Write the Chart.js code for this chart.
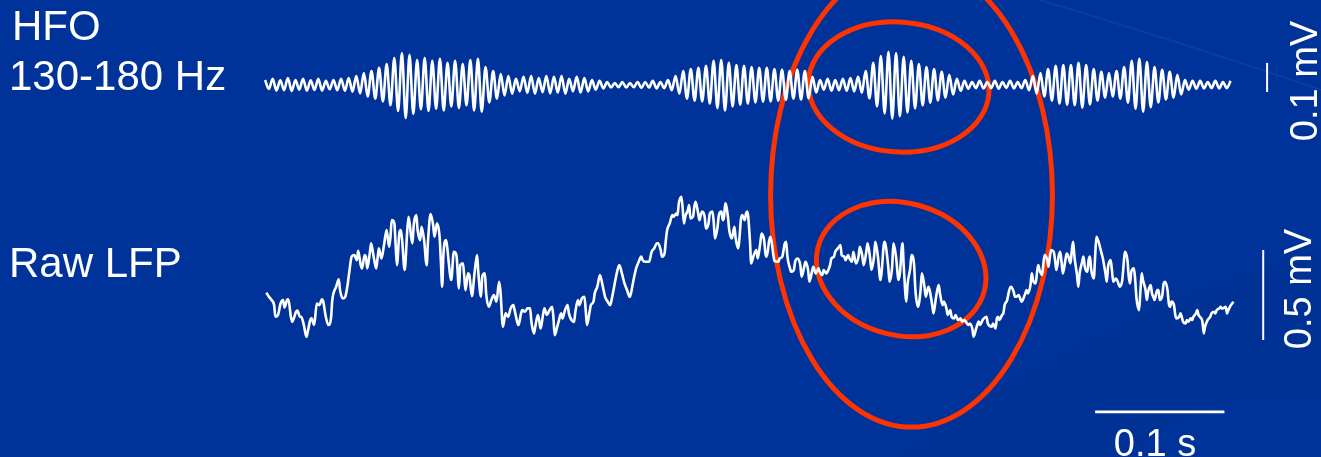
<!DOCTYPE html>
<html>
<head>
<meta charset="utf-8">
<title>HFO and raw LFP</title>
<script src="https://cdn.jsdelivr.net/npm/chart.js@4/dist/chart.umd.min.js"></script>
<style>
  html, body { margin: 0; padding: 0; background: #003399; overflow: hidden; }
  #wrap { position: relative; width: 1321px; height: 457px; }
  #plot { position: absolute; left: 0; top: 0; }
  .lbl { position: absolute; color: #ffffff; font-family: "Liberation Sans", Arial, sans-serif;
         line-height: 1; white-space: nowrap; }
  .rot { transform: translate(-50%, -50%) rotate(-90deg); }
  .ctr { transform: translateX(-50%); }
</style>
</head>
<body>
<div id="wrap">
  <canvas id="plot" width="1321" height="457"></canvas>
  <div class="lbl" style="left:12px; top:5px; font-size:42px;">HFO</div>
  <div class="lbl" style="left:9px; top:55px; font-size:42px;">130-180 Hz</div>
  <div class="lbl" style="left:9px; top:242px; font-size:42px;">Raw LFP</div>
  <div class="lbl rot" style="left:1304px; top:81px; font-size:38px;">0.1 mV</div>
  <div class="lbl rot" style="left:1298px; top:289px; font-size:38px;">0.5 mV</div>
  <div class="lbl ctr" style="left:1155px; top:424px; font-size:38px;">0.1 s</div>
</div>
<script>
// Band-passed trace (130-180 Hz), one value per half cycle: peak, trough, peak, ... (µV)
const HFO_STEP_MS = 2.94;
const hfoUv = [
  17,-14, 21,-19, 16,-18, 24,-21, 17,-16, 21,-20, 16,-17, 21,-19, 14,-15, 17,-18,
  21,-20, 24,-23, 31,-29, 41,-40, 48,-47, 59,-57, 72,-70, 93,-90, 110,-114, 104,-100,
  86,-84, 93,-90, 83,-82, 90,-88, 76,-74, 83,-80, 72,-70, 86,-88, 90,-92, 62,-60,
  48,-47, 38,-36, 31,-30, 21,-22, 28,-27, 31,-30, 24,-25, 31,-29, 28,-26, 31,-30,
  21,-22, 28,-26, 24,-22, 17,-16, 14,-12, 10,-9, 7,-8, 10,-9, 7,-8, 10,-10,
  10,-9, 14,-12, 10,-11, 17,-18, 31,-30, 48,-47, 55,-54, 59,-57, 66,-64, 83,-80,
  86,-88, 76,-74, 69,-68, 66,-64, 62,-60, 59,-58, 59,-57, 55,-54, 52,-51, 48,-47,
  52,-50, 48,-46, 28,-26, 17,-16, 21,-20, 17,-18, 21,-20, 24,-22, 28,-27, 48,-46,
  76,-74, 100,-98, 114,-116, 110,-108, 97,-95, 83,-81, 72,-70, 62,-61, 55,-53, 45,-44,
  35,-33, 21,-20, 14,-13, 10,-11, 14,-12, 10,-11, 14,-13, 10,-10, 14,-12, 10,-11,
  17,-18, 31,-30, 41,-40, 55,-54, 66,-64, 69,-68, 69,-70, 76,-78, 69,-67, 55,-54,
  45,-44, 41,-40, 48,-47, 62,-61, 83,-82, 90,-92, 79,-77, 62,-60, 52,-50, 45,-44,
  35,-33, 17,-16, 14,-13, 14,-12, 10,-11, 14,-12, 10,-11, 14
];

// Raw LFP: [time ms, µV]
const lfpPoints = [
  [1,41],[3,18],[5,0],[7,-28],[8,-93],[10,-83],[12,-19],[14,0],[15,-41],[17,0],[18,4],[20,-93],
  [21,-121],[24,-65],[25,-59],[27,-93],[28,-93],[30,-139],[32,-204],[33,-176],[35,-111],[36,-102],
  [38,-139],[40,-19],[42,-28],[44,4],[45,-9],[47,-93],[49,-139],[51,-102],[52,0],[55,74],[57,115],
  [58,55],[60,9],[62,18],[64,92],[65,148],[67,241],[69,250],[71,222],[72,274],[74,194],[75,176],
  [77,250],[78,241],[79,176],[81,259],[82,315],[84,241],[86,176],[87,231],[88,287],[90,231],
  [92,305],[94,389],[96,296],[97,352],[98,444],[100,426],[101,305],[102,194],[104,380],[105,389],
  [106,333],[108,167],[110,389],[111,463],[113,352],[114,315],[115,417],[117,472],[118,389],
  [120,333],[121,407],[123,333],[125,194],[126,324],[128,478],[130,417],[131,352],[133,426],
  [135,352],[136,213],[137,74],[138,259],[140,333],[141,287],[142,213],[144,111],[146,268],
  [148,250],[150,65],[151,194],[153,204],[154,139],[155,55],[157,148],[158,139],[160,22],
  [162,148],[164,250],[165,148],[167,18],[168,130],[170,148],[171,37],[173,-37],[175,0],[176,18],
  [177,28],[179,-9],[181,102],[182,55],[184,-148],
  [186,-74],[188,-93],[190,-46],[192,-28],[193,-56],[195,-121],[196,-139],[198,-74],[199,-56],
  [201,-65],[203,-46],[205,-46],[206,-121],[208,-185],[209,-148],[211,-83],[212,-111],[213,-158],
  [214,-130],[216,-46],[218,-83],[220,-56],[222,-37],[223,-93],[224,-195],[226,-148],[227,-121],
  [229,-74],[230,-102],[232,-56],[234,-28],[235,-74],[237,-111],[239,-121],[240,-65],[242,0],
  [243,-28],[245,9],[247,18],[248,-56],[249,-139],[251,-65],[252,-28],[254,-9],[255,37],[257,74],
  [259,139],[261,83],[263,18],[265,-9],[267,-28],[268,0],[270,74],[272,148],[274,194],[276,148],
  [278,92],[280,55],[282,18],[283,37],[285,111],[287,176],[289,213],[291,241],[292,222],[294,213],
  [297,213],[299,268],[301,287],[303,315],[304,315],[306,278],[307,241],[309,259],[310,333],
  [311,389],[313,426],[315,472],[316,463],[318,481],[319,472],[320,537],[322,574],[323,509],
  [324,426],[325,463],[327,500],[328,528],[329,454],[331,463],[332,518],[333,546],[335,481],
  [336,444],[337,472],[338,491],[340,463],[341,398],[343,426],[344,481],[346,491],[347,435],
  [348,342],[350,407],[351,472],[353,491],[354,444],[355,463],[356,537],[358,463],[359,389],
  [361,342],[363,407],[364,342],[366,287],[367,352],[368,444],[369,472],[371,444],[372,481],
  [373,491],
  [375,333],[376,204],[378,250],[380,278],[381,231],[383,315],[384,370],[386,333],[387,259],
  [388,241],[390,333],[391,352],[393,259],[394,218],[397,213],[398,231],[400,241],[402,315],
  [403,324],[404,241],[406,176],[407,157],[409,167],[410,213],[412,231],[414,194],[415,130],
  [417,185],[418,213],[420,167],[421,102],[423,157],[424,185],[426,148],[428,176],[429,157],
  [431,139],[432,167],[434,148],[435,157],[437,194],[438,231],[440,241],[441,268],[443,287],
  [445,305],[446,250],[448,241],[449,222],[451,250],[452,231],[454,213],[455,268],[457,204],
  [459,241],[460,296],[462,241],[463,194],[465,268],[466,315],[468,231],[469,167],[471,241],
  [472,324],[474,241],[476,111],[477,167],[479,324],[480,305],[482,185],[483,102],[485,185],
  [486,315],[488,241],[490,111],[491,148],[493,315],[494,185],[496,-9],[497,92],[499,176],
  [500,250],[502,194],[503,55],[505,-37],[507,55],[508,148],[510,74],[511,18],[513,74],[514,55],
  [516,-28],[517,-74],[519,18],[521,83],[522,37],[524,-28],[525,-9],[527,-46],[528,-83],
  [530,-56],[531,-93],[533,-102],[534,-83],[536,-111],[538,-102],[539,-120],[541,-111],
  [542,-120],[544,-139],[545,-130],[547,-158],[548,-204],[550,-158],[552,-120],[553,-139],
  [555,-111],[556,-102],[558,-93],[559,-130],
  [562,-148],[563,-130],[565,-158],[566,-102],[567,-93],[568,-111],[570,-83],[571,-74],[572,-28],
  [574,0],[575,37],[576,65],[577,74],[579,46],[580,18],[581,18],[583,28],[584,9],[585,-9],
  [586,0],[588,37],[589,55],[590,37],[592,83],[593,148],[594,111],[596,92],[597,148],[598,194],
  [599,167],[601,139],[602,204],[603,250],[605,222],[606,185],[607,241],[608,278],[610,268],
  [611,222],[612,167],[614,250],[615,268],[616,213],[617,148],[619,222],[620,259],[621,250],
  [623,204],[624,278],[625,324],[626,241],[628,139],[629,74],[630,148],[632,213],[633,241],
  [634,185],[636,157],[637,222],[638,241],[639,167],[641,120],[642,241],[643,352],[645,315],
  [646,287],[647,259],[648,231],[650,148],[651,102],[652,185],[654,222],[655,167],[656,102],
  [658,120],[659,111],[660,92],[661,74],[663,111],[664,194],[665,268],[667,222],[668,130],
  [669,92],[670,157],[672,176],[673,111],[674,9],[676,-56],[677,46],[678,148],[679,111],[681,55],
  [682,0],[683,46],[685,83],[686,37],[687,18],[688,0],[690,55],[691,55],[692,0],[694,28],
  [695,92],[696,102],[698,55],[699,-19],[700,-37],[701,-9],[703,-28],[704,-83],[705,-102],
  [707,-93],[708,-74],[709,-93],[710,-120],[712,-130],[713,-111],[714,-120],[716,-102],
  [717,-111],[718,-93],[720,-74],[721,-56],[722,-83],[723,-93],[725,-120],[726,-185],[727,-148],
  [729,-111],[730,-102],[731,-93],[732,-74],[734,-65],[735,-74],[736,-56],[738,-46],[739,-37],
  [740,-46],[741,-46],[743,-37],[744,-74],[745,-56],[747,-28],[748,-19],[749,-9]
];

// Calibration bars: 0.1 mV (HFO), 0.5 mV (LFP), 0.1 s
const hfoBarUv = [-24, 76];
const lfpBarUv = [-222, 278];
const timeBarMs = [642, 742];

// Highlighted events: centre (ms, µV), radii (ms, µV), tilt in degrees
const highlights = [
  { axis: 'yL', t: 500, v: 583, rt: 109, rv: 1289, tilt: 0 },
  { axis: 'yH', t: 490, v: -7, rt: 70, rv: 224, tilt: 4 },
  { axis: 'yL', t: 492, v: 172, rt: 66.5, rv: 367, tilt: 15 }
];

const WHITE = '#ffffff';
const BG = '#003399';
const RING = '#ff3300';

const backdrop = {
  id: 'backdrop',
  beforeDraw(chart) {
    const { ctx, width, height } = chart;
    ctx.save();
    ctx.fillStyle = BG;
    ctx.fillRect(0, 0, width, height);
    // faint swoosh of the slide background, lower right
    ctx.fillStyle = 'rgba(0, 20, 90, 0.08)';
    ctx.beginPath();
    ctx.moveTo(900, height);
    ctx.quadraticCurveTo(1080, 320, width, 250);
    ctx.lineTo(width, 400);
    ctx.quadraticCurveTo(1220, 380, 1120, height);
    ctx.closePath();
    ctx.fill();
    // thin light streaks, upper right
    ctx.strokeStyle = 'rgba(120, 150, 220, 0.09)';
    ctx.lineWidth = 2;
    ctx.beginPath();
    ctx.moveTo(1040, 0);
    ctx.quadraticCurveTo(1190, 45, width, 90);
    ctx.stroke();
    ctx.restore();
  }
};

const rings = {
  id: 'rings',
  beforeDatasetsDraw(chart) {
    const { ctx } = chart;
    const xs = chart.scales.x;
    ctx.save();
    ctx.strokeStyle = RING;
    ctx.lineWidth = 5;
    highlights.forEach(h => {
      const ys = chart.scales[h.axis];
      const cx = xs.getPixelForValue(h.t);
      const cy = ys.getPixelForValue(h.v);
      const rx = Math.abs(xs.getPixelForValue(h.t + h.rt) - cx);
      const ry = Math.abs(ys.getPixelForValue(h.v + h.rv) - cy);
      ctx.beginPath();
      ctx.ellipse(cx, cy, rx, ry, h.tilt * Math.PI / 180, 0, Math.PI * 2);
      ctx.stroke();
    });
    ctx.restore();
  }
};

const hfoData = hfoUv.map((v, i) => ({ x: i * HFO_STEP_MS, y: v }));
const lfpData = lfpPoints.map(p => ({ x: p[0], y: p[1] }));

new Chart(document.getElementById('plot'), {
  type: 'line',
  data: {
    datasets: [
      { label: 'HFO 130-180 Hz', data: hfoData, yAxisID: 'yH', borderColor: WHITE, borderWidth: 2.6,
        pointRadius: 0, cubicInterpolationMode: 'monotone', borderJoinStyle: 'round' },
      { label: 'Raw LFP', data: lfpData, yAxisID: 'yL', borderColor: WHITE, borderWidth: 2.6,
        pointRadius: 0, cubicInterpolationMode: 'monotone', borderJoinStyle: 'round' },
      { label: '0.1 mV', data: [{ x: 775, y: hfoBarUv[0] }, { x: 775, y: hfoBarUv[1] }], yAxisID: 'yH',
        borderColor: WHITE, borderWidth: 2, pointRadius: 0 },
      { label: '0.5 mV', data: [{ x: 772, y: lfpBarUv[0] }, { x: 772, y: lfpBarUv[1] }], yAxisID: 'yL',
        borderColor: WHITE, borderWidth: 2, pointRadius: 0 },
      { label: '0.1 s', data: [{ x: timeBarMs[0], y: -621 }, { x: timeBarMs[1], y: -621 }], yAxisID: 'yL',
        borderColor: WHITE, borderWidth: 2.7, pointRadius: 0 }
    ]
  },
  options: {
    responsive: false,
    animation: false,
    devicePixelRatio: 1,
    events: [],
    layout: { padding: 0 },
    plugins: { legend: { display: false }, tooltip: { enabled: false } },
    scales: {
      x: { type: 'linear', min: -205, max: 816.7, display: false },
      yH: { type: 'linear', min: -1283, max: 293, display: false },
      yL: { type: 'linear', min: -872, max: 1667, display: false }
    }
  },
  plugins: [backdrop, rings]
});
</script>
</body>
</html>
